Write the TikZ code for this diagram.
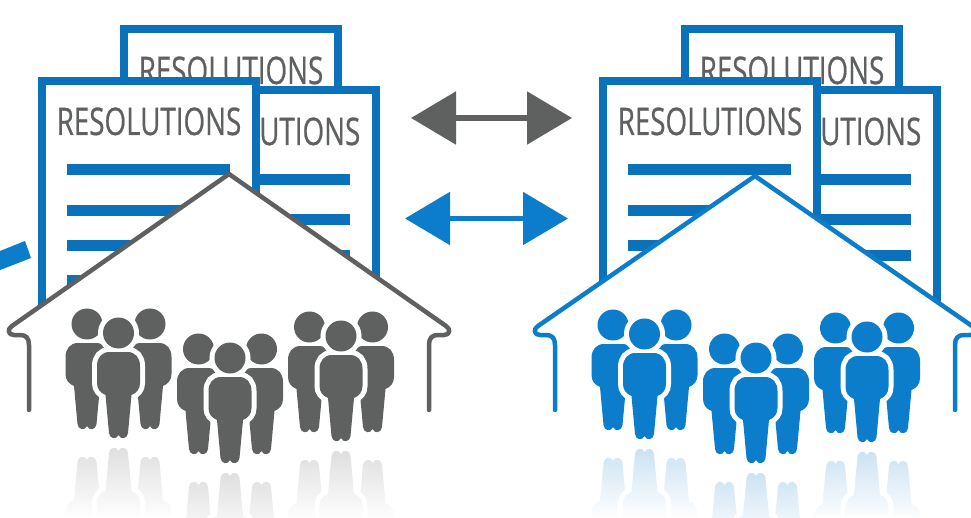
\documentclass[tikz,border=0pt]{standalone}
\usepackage{fontspec}
\setmainfont{Open Sans}
\newfontfamily\resfont[FakeBold=0.7]{Open Sans}
\usetikzlibrary{arrows.meta}
\definecolor{docblue}{HTML}{0B71BA}
\definecolor{brightblue}{HTML}{0B7DCB}
\definecolor{darkgrey}{HTML}{5F6060}
\definecolor{palegrey}{HTML}{DADADA}
\definecolor{paleblue}{HTML}{C4DEF1}
\tikzset{
  sheet/.style={draw=docblue,line width=8pt,fill=white,miter limit=10},
  restext/.style={text=darkgrey,font=\resfont\fontsize{38}{38}\selectfont,xscale=0.73,inner sep=0pt,anchor=base},
  textline/.style={docblue,line width=11pt},
  twoway/.style={<->,>={Triangle[length=45pt,width=52pt]},line width=5.5pt},
  roof/.style={fill=white,line width=4.5pt,line join=round,line cap=round},
  personpath/.style={insert path={
    (0,0) circle[radius=15.5]
    (-9,19) -- (9,19) .. controls (17,19) and (21.5,25) .. (21.5,33) -- (21.5,50)
    .. controls (21.5,56) and (18,60) .. (13,62) -- (9.5,100)
    .. controls (9,106) and (2,107) .. (0,102) .. controls (-2,107) and (-9,106) .. (-9.5,100)
    -- (-13,62) .. controls (-18,60) and (-21.5,56) .. (-21.5,50) -- (-21.5,33)
    .. controls (-21.5,25) and (-17,19) .. (-9,19) -- cycle}}
}
% one group of three people, then its mirror image
\newcommand{\peoplegroup}[5]{
  \begin{scope}[shift={(#1,#2)}]
    \fill[#3,shift={(-31.5,-9)},personpath];
    \fill[#3,shift={(31.5,-9)},personpath];
    \draw[white,line width=10pt,personpath];
    \fill[#3,personpath];
  \end{scope}
  \begin{scope}[shift={(#1,#2+220)},yscale=-1]
    \foreach \px/\py in {-31.5/-9,31.5/-9}{
      \begin{scope}
        \clip[shift={(\px,\py)},personpath];
        \shade[top color=#4,bottom color=white] (-60,116) rectangle (60,#5);
      \end{scope}
    }
    \draw[white,line width=10pt,personpath];
    \begin{scope}
      \clip[personpath];
      \shade[top color=#4,bottom color=white] (-60,116) rectangle (60,#5);
    \end{scope}
  \end{scope}
}
\begin{document}
\begin{tikzpicture}[x=1pt,y=-1pt]
  \clip (0,0) rectangle (971,518);
  % stray piece at the left edge
  \fill[brightblue] (-5,253) -- (25,241) -- (31,258) -- (-5,272) -- cycle;
  % three sheets on each side
  \foreach \side/\dx in {L/0,R/561}{
    \begin{scope}[xshift=\dx pt]
      \draw[sheet] (124,320) -- (124,29) -- (338,29) -- (338,320);
      \node[restext] (backtext\side) at (231,84) {RESOLUTIONS};
      \draw[sheet] (140,320) -- (140,90) -- (376,90) -- (376,320);
      \node[restext] (sidetext\side) at (268,145) {RESOLUTIONS};
      \foreach \ly in {179.5,219.5,255.5,290}{
        \draw[textline] (190,\ly) -- (350,\ly);
      }
      \draw[sheet] (42,320) -- (42,81) -- (256,81) -- (256,320);
      \node[restext] (fronttext\side) at (149,135) {RESOLUTIONS};
      \foreach \ly in {169.5,210.5,245.5,280.5}{
        \draw[textline] (67,\ly) -- (230,\ly);
      }
    \end{scope}
  }
  % two houses
  \draw[roof,draw=darkgrey] (29,410) -- (29,345) .. controls (29,338) and (26,335) .. (20,335) -- (14,335)
    .. controls (8,335) and (7,329) .. (12,326) -- (229,174) -- (446,326)
    .. controls (451,329) and (450,335) .. (444,335) -- (438,335)
    .. controls (432,335) and (429,338) .. (429,345) -- (429,410);
  \draw[roof,draw=brightblue] (555,410) -- (555,345) .. controls (555,338) and (552,335) .. (546,335) -- (540,335)
    .. controls (534,335) and (533,329) .. (538,326) -- (755,176) -- (972,326)
    .. controls (977,329) and (976,335) .. (970,335) -- (964,335)
    .. controls (958,335) and (955,338) .. (955,345) -- (955,410);
  % people
  \peoplegroup{118.5}{333}{darkgrey}{palegrey}{35}
  \peoplegroup{230}{358}{darkgrey}{palegrey}{35}
  \peoplegroup{341}{336}{darkgrey}{palegrey}{35}
  \peoplegroup{644.5}{334}{brightblue}{paleblue}{35}
  \peoplegroup{756}{358}{brightblue}{paleblue}{35}
  \peoplegroup{867}{337}{brightblue}{paleblue}{35}
  % arrows
  \coordinate (greyleft) at (411,118);
  \coordinate (greyright) at (572,118);
  \coordinate (blueleft) at (405,218.5);
  \coordinate (blueright) at (568,218.5);
  \draw[twoway,darkgrey] (greyleft) -- (greyright);
  \draw[twoway,brightblue] (blueleft) -- (blueright);
\end{tikzpicture}
\end{document}
